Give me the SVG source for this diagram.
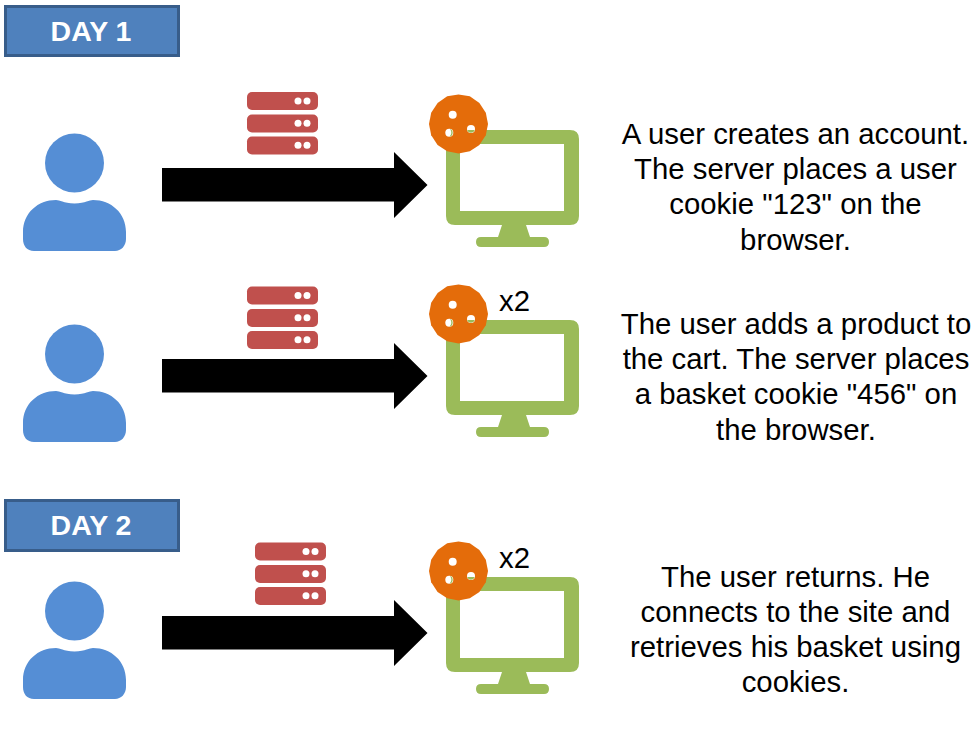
<svg xmlns="http://www.w3.org/2000/svg" width="975" height="731" viewBox="0 0 975 731">
<style>
text{font-family:"Liberation Sans",Arial,sans-serif}
.t{font-size:29.33px;fill:#000;text-anchor:middle}
.x{font-size:29.33px;fill:#000}
.d{font-size:28.5px;font-weight:bold;fill:#fff;text-anchor:middle}
.b{fill:#4f81bd;stroke:#385d8a;stroke-width:3}
.u{fill:#558ed5}
.s{fill:#c0504d}
.w{fill:#fff}
.m{fill:#9bbb59}
.c{fill:#e46c0a}
</style>
<defs>
<g id="user"><circle class="u" cx="74.5" cy="163" r="29.5"/><path class="u" d="M23 235V232C23 213 38 200 56 200C60 200 63 203 74.500 203.500C86 203 89 200 93 200C111 200 126 213 126 232V239C126 246 121 251 115 251H34C27 251 23 246 23 239Z"/></g>
<g id="server"><rect class="s" x="247" y="92" width="71" height="18" rx="5"/><rect class="s" x="247" y="114.500" width="71" height="18" rx="5"/><rect class="s" x="247" y="136.500" width="71" height="18" rx="5"/><circle class="w" cx="298" cy="101" r="3.500"/><circle class="w" cx="307" cy="101" r="3.500"/><circle class="w" cx="298" cy="123.300" r="3.500"/><circle class="w" cx="307" cy="123.300" r="3.500"/><circle class="w" cx="298" cy="145.300" r="3.500"/><circle class="w" cx="307" cy="145.300" r="3.500"/></g>
<g id="monitor"><path class="m" fill-rule="evenodd" d="M455 130H570Q579 130 579 139V216Q579 225 570 225H526L530 237H544Q549 237 549 242Q549 247 544 247H481Q476 247 476 242Q476 237 481 237H498L502 225H455Q446 225 446 216V139Q446 130 455 130ZM460 144V211H564V144Z"/></g>
<g id="cookie"><path class="c" d="M458.500 94.500L469.800 96.300L479.400 103.100L485.800 112.700L488 124L485.800 135.300L479.400 144.900L469.800 151.200L458.500 153.500L447.200 151.200L437.600 144.900L431.200 135.300L429 124L431.200 112.700L437.600 103.100L447.200 96.300Z"/><circle class="w" cx="452.700" cy="114.700" r="4"/><circle class="w" cx="449.300" cy="132.700" r="4"/><path class="m" d="M450 129A4 4 0 0 1 449.500 136.700A6 6 0 0 0 450 129Z"/><circle class="w" cx="471" cy="129" r="4"/><path class="m" d="M467.200 130H474.800A4 4 0 0 1 467.200 130Z"/></g>
</defs>

<g id="connectors">
<path id="arrow-1" d="M162 168H394V152L427.500 185L394 218V201.500H162Z" fill="#000"/>
<path id="arrow-2" d="M162 359H394V343L427.500 376L394 409V392.500H162Z" fill="#000"/>
<path id="arrow-3" d="M162 616H394V600L427.500 633L394 666V649.500H162Z" fill="#000"/>
</g>

<g id="day-1"><rect class="b" x="5.500" y="6.500" width="173" height="49"/><text class="d" x="91" y="41">DAY 1</text></g>
<g id="day-2"><rect class="b" x="5.500" y="500.500" width="173" height="50"/><text class="d" x="91" y="535">DAY 2</text></g>

<g id="user-1"><use href="#user"/></g>
<g id="user-2"><use href="#user" y="191"/></g>
<g id="user-3"><use href="#user" y="448"/></g>

<g id="server-1"><use href="#server"/></g>
<g id="server-2"><use href="#server" y="194.500"/></g>
<g id="server-3"><use href="#server" x="8" y="450.500"/></g>

<g id="monitor-1"><use href="#monitor"/><use href="#cookie"/></g>
<g id="monitor-2"><use href="#monitor" y="190"/><use href="#cookie" y="190"/><text class="x" x="499" y="311">x2</text></g>
<g id="monitor-3"><use href="#monitor" y="447"/><use href="#cookie" y="447"/><text class="x" x="499" y="568">x2</text></g>

<g id="text-1"><text class="t" x="795.500" y="144">A user creates an account.</text><text class="t" x="795.500" y="179">The server places a user</text><text class="t" x="795.500" y="214">cookie "123" on the</text><text class="t" x="795.500" y="250">browser.</text></g>
<g id="text-2"><text class="t" x="796" y="334">The user adds a product to</text><text class="t" x="796" y="369">the cart. The server places</text><text class="t" x="796" y="404">a basket cookie "456" on</text><text class="t" x="796" y="440">the browser.</text></g>
<g id="text-3"><text class="t" x="795.500" y="587">The user returns. He</text><text class="t" x="795.500" y="622">connects to the site and</text><text class="t" x="795.500" y="657">retrieves his basket using</text><text class="t" x="795.500" y="692">cookies.</text></g>
</svg>
